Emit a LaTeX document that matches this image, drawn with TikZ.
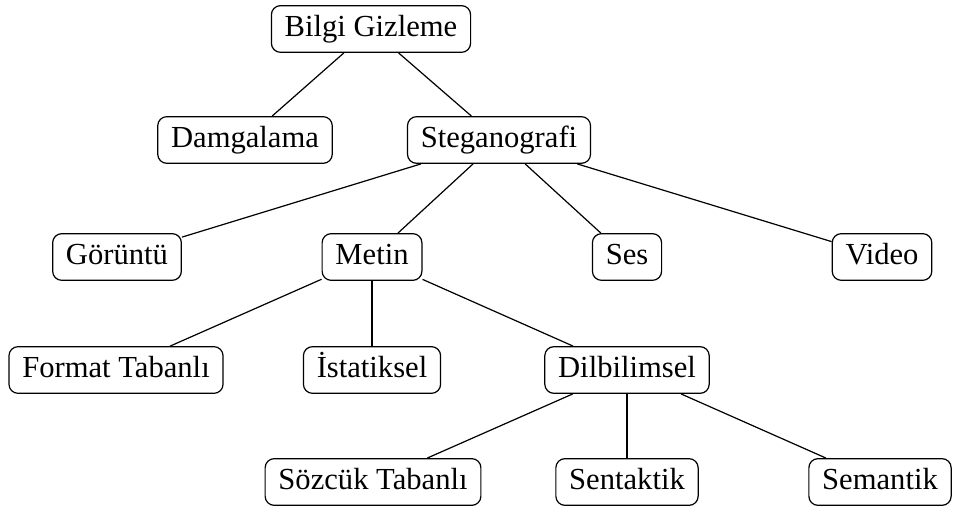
\documentclass[tikz,border=0pt]{standalone}
\usepackage{fontspec}
\setmainfont{Liberation Serif}
\begin{document}
\begin{tikzpicture}[x=0.33pt,y=-0.33pt,
  box/.style={draw, rounded corners=3pt, font=\fontsize{10.1}{12}\selectfont,
    text height=6.9pt, text depth=2.1pt, inner xsep=4.4pt, inner ysep=3.2pt, line width=0.4pt},
  link/.style={line width=0.4pt}]
\useasboundingbox (0,0) rectangle (956,509);
% level 0
\node[box] (bg) at (371,29) {Bilgi Gizleme};
% level 1
\node[box] (dam) at (245,140) {Damgalama};
\node[box] (steg) at (499,140) {Steganografi};
% level 2
\node[box] (gor) at (117,257) {Görüntü};
\node[box] (met) at (372,257) {Metin};
\node[box] (ses) at (627,257) {Ses};
\node[box] (vid) at (882,257) {Video};
% level 3
\node[box] (fmt) at (116,370) {Format Tabanlı};
\node[box] (ist) at (372,370) {İstatiksel};
\node[box] (dil) at (627,370) {Dilbilimsel};
% level 4
\node[box] (soz) at (373,482) {Sözcük Tabanlı};
\node[box] (sen) at (627,482) {Sentaktik};
\node[box] (sem) at (880,482) {Semantik};
% connectors
\draw[link] (bg) -- (dam);
\draw[link] (bg) -- (steg);
\draw[link] (steg) -- (gor);
\draw[link] (steg) -- (met);
\draw[link] (steg) -- (ses);
\draw[link] (steg) -- (vid);
\draw[link] (met) -- (fmt);
\draw[link] (met) -- (ist);
\draw[link] (met) -- (dil);
\draw[link] (dil) -- (soz);
\draw[link] (dil) -- (sen);
\draw[link] (dil) -- (sem);
\end{tikzpicture}
\end{document}
